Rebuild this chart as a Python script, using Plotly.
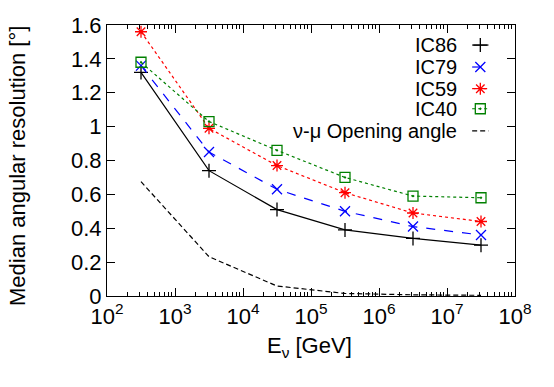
import plotly.graph_objects as go

# energies (GeV) at bin centres, 10^2.5 ... 10^7.5
ENERGY = [10**2.5, 10**3.5, 10**4.5, 10**5.5, 10**6.5, 10**7.5]

IC86 = [1.32, 0.74, 0.51, 0.39, 0.34, 0.30]
IC79 = [1.36, 0.85, 0.63, 0.50, 0.41, 0.36]
IC59 = [1.56, 0.99, 0.77, 0.61, 0.49, 0.44]
IC40 = [1.38, 1.03, 0.86, 0.70, 0.59, 0.58]
OPENING = [0.675, 0.232, 0.059, 0.015, 0.007, 0.004]

X_TICKS = [1e2, 1e3, 1e4, 1e5, 1e6, 1e7, 1e8]
X_TICKTEXT = [f"10<sup>{p}</sup>" for p in range(2, 9)]
Y_TICKS = [0, 0.2, 0.4, 0.6, 0.8, 1.0, 1.2, 1.4, 1.6]
Y_TICKTEXT = ["0", "0.2", "0.4", "0.6", "0.8", "1", "1.2", "1.4", "1.6"]

FONT = "Liberation Sans, Arial, Helvetica, sans-serif"
GREEN = "#008000"

# (name, y, colour, dash, symbol)
SERIES = [
    ("IC86", IC86, "black", "solid", "cross-thin-open"),
    ("IC79", IC79, "#0000ff", "dash", "x-thin-open"),
    ("IC59", IC59, "#ff0000", "3px,3px", "asterisk-open"),
    ("IC40", IC40, GREEN, "dot", "square-open-dot"),
]

fig = go.Figure()

for name, ys, col, dash, sym in SERIES:
    fig.add_trace(go.Scatter(
        x=ENERGY, y=ys, mode="lines+markers", name=name,
        line=dict(color=col, width=1.2, dash=dash),
        marker=dict(symbol=sym, size=10, color=col, line=dict(color=col, width=1.3)),
        showlegend=False,
    ))

fig.add_trace(go.Scatter(
    x=ENERGY, y=OPENING, mode="lines", name="ν-μ Opening angle",
    line=dict(color="black", width=1.2, dash="5px,3px"),
    showlegend=False,
))

# gnuplot-style key: right-aligned text with sample to its right
key_rows = [(s[0], s[2], s[3], s[4]) for s in SERIES] + [("ν-μ Opening angle", "black", "5px,3px", None)]
key_y = [0.926, 0.845, 0.765, 0.691, 0.609]
for (label, col, dash, sym), ky in zip(key_rows, key_y):
    fig.add_annotation(
        x=0.863, y=ky, xref="paper", yref="paper", text=label, showarrow=False,
        xanchor="right", yanchor="middle", font=dict(size=20, color="black", family=FONT),
    )
    fig.add_trace(go.Scatter(
        x=[0.895, 0.935], y=[ky, ky], xaxis="x2", yaxis="y2",
        mode="lines", line=dict(color=col, width=1.2, dash=dash),
        showlegend=False, hoverinfo="skip",
    ))
    if sym:
        fig.add_trace(go.Scatter(
            x=[0.915], y=[ky], xaxis="x2", yaxis="y2", mode="markers",
            marker=dict(symbol=sym, size=10, color=col, line=dict(color=col, width=1.3)),
            showlegend=False, hoverinfo="skip",
        ))

# axis titles placed as in the original (gnuplot puts them well away from ticks)
fig.add_annotation(
    x=-0.218, y=0.48, xref="paper", yref="paper", text="Median angular resolution [°]",
    textangle=-90, showarrow=False, xanchor="center", yanchor="middle",
    font=dict(size=22, color="black", family=FONT),
)
fig.add_annotation(
    x=0.4975, y=-0.19, xref="paper", yref="paper", text="E<sub>ν</sub> [GeV]",
    showarrow=False, xanchor="center", yanchor="middle",
    font=dict(size=22, color="black", family=FONT),
)

axis_common = dict(
    showline=True, linecolor="black", linewidth=1.2, mirror="allticks",
    ticks="inside", ticklen=8, tickcolor="black", tickwidth=1,
    showgrid=False, zeroline=False,
    tickfont=dict(size=22, color="black", family=FONT),
)

fig.update_layout(
    width=554, height=387,
    margin=dict(l=107, r=39, t=25, b=91),
    paper_bgcolor="white", plot_bgcolor="white",
    font=dict(family=FONT, color="black", size=20),
    xaxis=dict(
        type="log", range=[2, 8], tickvals=X_TICKS, ticktext=X_TICKTEXT,
        minor=dict(ticks="inside", ticklen=4, tickcolor="black", dtick="D1"),
        **axis_common,
    ),
    yaxis=dict(
        range=[0, 1.6], tickvals=Y_TICKS, ticktext=Y_TICKTEXT,
        **axis_common,
    ),
    xaxis2=dict(overlaying="x", range=[0, 1], visible=False),
    yaxis2=dict(overlaying="y", range=[0, 1], visible=False),
)

# drop the browser's default body margin so the figure sits at the page origin
fig.write_html(
    "out.html",
    config={"displayModeBar": False},
    post_script="document.body.style.margin='0';",
)
